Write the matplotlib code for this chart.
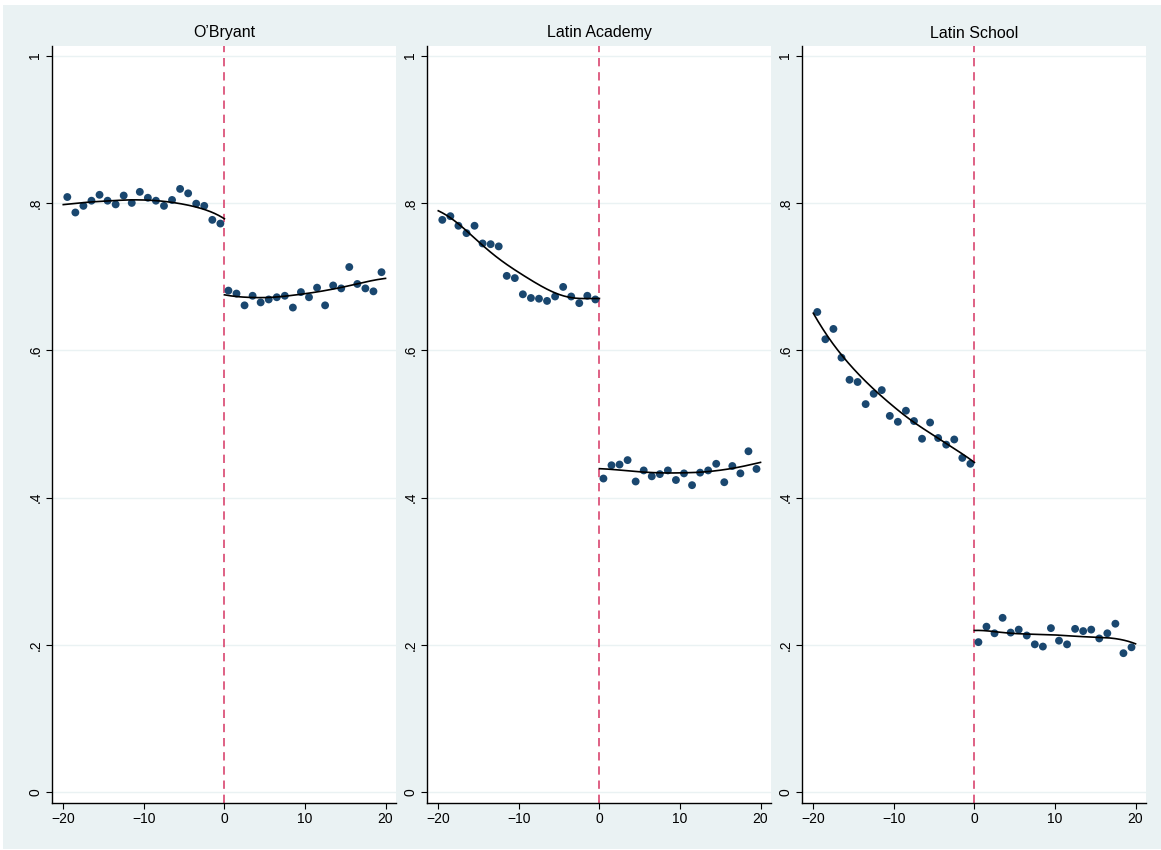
import numpy as np
import matplotlib
matplotlib.use("Agg")
import matplotlib.pyplot as plt
from matplotlib.patches import Rectangle

plt.rcParams['font.family'] = ['Liberation Sans', 'DejaVu Sans']

titles = ["O\u2019Bryant", "Latin Academy", "Latin School"]

x_left = np.arange(-19.5, 0, 1.0)
x_right = np.arange(0.5, 20, 1.0)

obryant_left = [0.808, 0.787, 0.796, 0.803, 0.811, 0.803, 0.798, 0.810, 0.800, 0.815,
                0.807, 0.803, 0.796, 0.804, 0.819, 0.813, 0.799, 0.796, 0.777, 0.772]
obryant_right = [0.681, 0.677, 0.661, 0.674, 0.665, 0.669, 0.672, 0.674, 0.658, 0.679,
                 0.672, 0.685, 0.661, 0.688, 0.684, 0.713, 0.690, 0.684, 0.680, 0.706]
academy_left = [0.777, 0.782, 0.769, 0.759, 0.769, 0.745, 0.744, 0.741, 0.701, 0.698,
                0.676, 0.671, 0.670, 0.667, 0.673, 0.686, 0.673, 0.664, 0.674, 0.669]
academy_right = [0.426, 0.444, 0.445, 0.451, 0.422, 0.437, 0.429, 0.432, 0.437, 0.424,
                 0.433, 0.417, 0.434, 0.437, 0.446, 0.421, 0.443, 0.433, 0.463, 0.439]
school_left = [0.652, 0.615, 0.629, 0.590, 0.560, 0.557, 0.527, 0.541, 0.546, 0.511,
               0.503, 0.518, 0.504, 0.480, 0.502, 0.481, 0.472, 0.479, 0.454, 0.446]
school_right = [0.204, 0.225, 0.216, 0.237, 0.217, 0.221, 0.213, 0.201, 0.198, 0.223,
                0.206, 0.201, 0.222, 0.219, 0.221, 0.209, 0.216, 0.229, 0.189, 0.197]

panels = [(obryant_left, obryant_right),
          (academy_left, academy_right),
          (school_left, school_right)]

yticks = [0, 0.2, 0.4, 0.6, 0.8, 1.0]
ytick_labels = ["0", ".2", ".4", ".6", ".8", "1"]
xticks = [-20, -10, 0, 10, 20]
xtick_labels = ["\u221220", "\u221210", "0", "10", "20"]

BG = "#eaf2f3"
NAVY = "#1a476f"
RED = "#d9466f"


def local_linear(xs, ys, grid, h):
    xs = np.asarray(xs, float)
    ys = np.asarray(ys, float)
    out = []
    for x0 in grid:
        u = np.abs(xs - x0) / h
        w = np.where(u < 1, (1 - u ** 3) ** 3, 0.0)
        X = np.column_stack([np.ones_like(xs), xs - x0])
        WX = X * w[:, None]
        beta = np.linalg.solve(X.T @ WX, WX.T @ ys)
        out.append(beta[0])
    return np.array(out)


W, H = 1161, 850
fig = plt.figure(figsize=(W / 100, H / 100), dpi=100)
fig.patch.set_facecolor("white")
fig.add_artist(Rectangle((3 / W, 1 - 849 / H), (W - 3) / W, (849 - 5) / H,
                         transform=fig.transFigure, facecolor=BG, edgecolor="none", zorder=0))

lefts = [52, 427, 802]
pw = 344
top, bottom = 45.5, 802.5
for i, (lv, rv) in enumerate(panels):
    ax = fig.add_axes([lefts[i] / W, 1 - bottom / H, pw / W, (bottom - top) / H])
    ax.set_facecolor("white")
    ax.set_xlim(-21.4, 21.3)
    ax.set_ylim(-0.0136, 1.0136)
    for sp in ["top", "right"]:
        ax.spines[sp].set_visible(False)
    for sp in ["left", "bottom"]:
        ax.spines[sp].set_linewidth(1.0)
        ax.spines[sp].set_color("black")
    ax.set_yticks(yticks)
    ax.set_yticklabels(ytick_labels, rotation=90, va="center")
    ax.set_xticks(xticks)
    ax.set_xticklabels(xtick_labels)
    ax.tick_params(axis="both", length=4, width=0.8, labelsize=10, pad=3)
    ax.grid(axis="y", color=BG, linewidth=1.0)
    ax.set_axisbelow(True)

    ax.scatter(x_left, lv, s=32, color=NAVY, edgecolors="none", zorder=3)
    ax.scatter(x_right, rv, s=32, color=NAVY, edgecolors="none", zorder=3)

    for xs, ys, lo, hi in [(x_left, lv, -20, 0), (x_right, rv, 0, 20)]:
        xx = np.linspace(lo, hi, 200)
        ax.plot(xx, local_linear(xs, ys, xx, 12.0), color="black", linewidth=1.2, zorder=4)

    ax.axvline(0, color=RED, linewidth=1.2, linestyle=(0, (5, 3.5)), zorder=2)
    ax.text(0.5, 1 + 12.5 / (bottom - top), titles[i], transform=ax.transAxes,
            ha="center", va="center", fontsize=11.5)

fig.savefig("out.png", dpi=100)
